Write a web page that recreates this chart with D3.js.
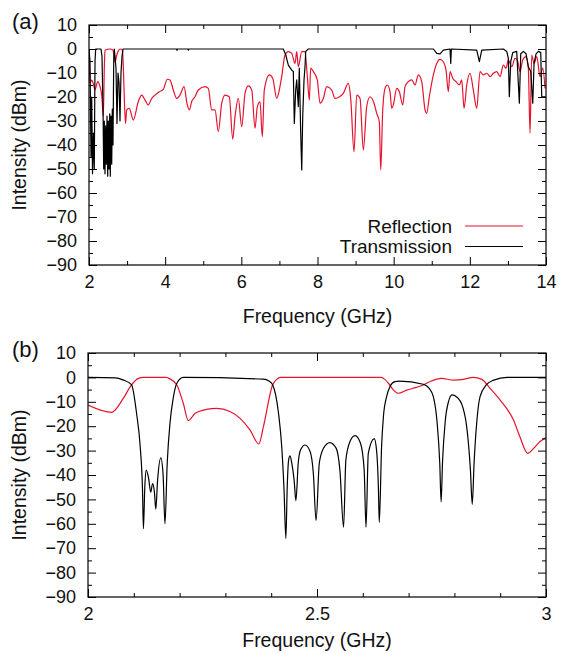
<!DOCTYPE html>
<html>
<head>
<meta charset="utf-8">
<script src="https://cdn.jsdelivr.net/npm/d3@7"></script>
<style>
  body { margin: 0; background: #fff; }
  svg { font-family: "Liberation Sans", Arial, sans-serif; }
  .tick text { font-size: 18px; fill: #111; }
</style>
</head>
<body>
<div id="chart"></div>
<script>
// Panel (a): frequency (GHz), intensity (dBm)
const reflectionA = [
  [2.000, 0], [2.013, -8], [2.026, -14], [2.071, -13], [2.105, -14], [2.158, -17], [2.228, -13.6],
  [2.289, -15.7], [2.334, -19.2], [2.376, -28], [2.402, -8], [2.420, -0.5], [2.551, 0], [2.630, -0.5],
  [2.683, -5.5], [2.722, -3], [2.762, -1], [2.814, 0], [2.880, -0.5], [2.901, -7.4], [2.932, -23],
  [2.959, -31], [2.990, -25.4], [3.058, -24.7], [3.163, -29.6], [3.295, -21.9], [3.384, -19.2],
  [3.471, -21.3], [3.557, -23.3], [3.647, -20.6], [3.733, -19.2], [3.846, -17.8], [3.951, -16.8],
  [4.056, -12.6], [4.127, -12.9], [4.214, -17.1], [4.303, -20.6], [4.390, -19.2], [4.495, -15.7],
  [4.581, -23.3], [4.634, -25.4], [4.697, -21.9], [4.784, -19.9], [4.870, -17.1], [5.046, -15.7],
  [5.133, -16.4], [5.222, -25.4], [5.309, -25.4], [5.396, -34.4], [5.485, -22.6], [5.571, -19.2],
  [5.684, -19.9], [5.774, -37.6], [5.834, -28.2], [5.921, -20.6], [6.010, -32.4], [6.097, -18.5],
  [6.183, -15.4], [6.273, -17.1], [6.359, -33], [6.420, -24], [6.491, -22], [6.551, -36.5],
  [6.603, -17.1], [6.735, -10.8], [6.824, -12.2], [6.929, -20.6], [6.997, -17.1], [7.060, -11.5],
  [7.147, -2.5], [7.234, -1.1], [7.323, -1.8], [7.410, -6], [7.454, -1.1], [7.496, -7.4],
  [7.586, -1.1], [7.672, -1.1], [7.733, -11.5], [7.785, -21.3], [7.822, -8], [7.890, -9.4],
  [7.995, -12.9], [8.066, -22.6], [8.153, -20.6], [8.242, -15.7], [8.373, -17.1], [8.460, -20.6],
  [8.547, -20.2], [8.678, -18.5], [8.809, -14.3], [8.872, -20.6], [8.959, -42.8], [9.030, -19.2],
  [9.117, -20.6], [9.203, -42.1], [9.292, -24], [9.379, -19.9], [9.484, -22.6], [9.555, -26.8],
  [9.623, -30.3], [9.660, -50.4], [9.713, -25.4], [9.773, -16.4], [9.833, -15], [9.904, -17.8],
  [9.949, -24.7], [9.991, -23.3], [10.080, -16.4], [10.149, -17.8], [10.238, -23.3], [10.298, -15.7],
  [10.385, -13.6], [10.474, -12.9], [10.561, -15], [10.648, -10.8], [10.737, -13.6], [10.824, -25.4],
  [10.868, -26.8], [10.936, -19.9], [11.042, -10.8], [11.131, -6], [11.218, -4.3], [11.304, -5.3],
  [11.375, -8.8], [11.435, -17.8], [11.480, -9.4], [11.551, -12.2], [11.638, -13.6], [11.724, -15],
  [11.787, -12.9], [11.848, -24.7], [11.919, -15], [12.005, -10.1], [12.092, -17.1], [12.181, -24.7],
  [12.268, -9.4], [12.355, -10.8], [12.444, -10.1], [12.530, -11.5], [12.617, -10.1], [12.706, -9.4],
  [12.793, -11.5], [12.880, -6.7], [12.950, -8], [13.011, -4.6], [13.100, -7.4], [13.187, -3.9],
  [13.248, -4.6], [13.318, -9.4], [13.389, -4.6], [13.476, -3.2], [13.536, -8], [13.581, -35.1],
  [13.625, -2.5], [13.686, -6], [13.757, -3.2], [13.844, -11.5], [13.914, -8], [13.975, -16.4]
];

const transmissionA = [
  [2.000, 0], [2.026, -5], [2.053, -45], [2.071, -20], [2.092, -52], [2.118, -35], [2.139, -50],
  [2.158, -5], [2.176, 0], [2.315, 0], [2.341, -3], [2.368, -25], [2.386, -50], [2.402, -30],
  [2.420, -52], [2.439, -32], [2.454, -48], [2.473, -28], [2.491, -53], [2.507, -30], [2.525, -50],
  [2.544, -27], [2.559, -53], [2.578, -28], [2.596, -48], [2.612, -25], [2.630, -40], [2.649, -5],
  [2.664, 0], [2.683, -3], [2.709, -8], [2.735, -31], [2.762, -10], [2.788, -14], [2.814, -30],
  [2.840, -10], [2.867, -3], [2.893, 0], [4.300, 0], [4.310, -0.6], [4.320, 0], [4.600, 0],
  [4.610, -0.5], [4.620, 0], [7.102, 0], [7.165, -2.4], [7.234, -6.7], [7.323, -8.8],
  [7.365, -9.4], [7.391, -31], [7.428, -17], [7.454, -12.9], [7.496, -24], [7.522, -8], [7.559, -35],
  [7.586, -50.4], [7.612, -28], [7.646, -12.9], [7.672, -7.4], [7.691, -1], [7.759, 0], [11.042, 0],
  [11.131, -1.8], [11.218, -2], [11.304, -0.5], [11.480, 0], [11.499, -6], [11.514, 0], [12.181, -0.5],
  [12.250, -5.3], [12.313, -0.5], [12.880, 0], [12.969, -1], [13.011, -3.9], [13.037, -19.9],
  [13.074, -5.3], [13.126, -1.5], [13.231, -1], [13.300, -22.6], [13.337, -2], [13.406, -1],
  [13.476, -2], [13.536, -7.4], [13.599, -9.4], [13.652, -22.6], [13.686, -6], [13.739, -2],
  [13.799, -1], [13.862, -1.5], [13.888, -19.9], [14.000, -19.9]
];

// Panel (b): zoom on 2 - 3 GHz
const reflectionB = [
  [2.000, -11.3], [2.052, -14.3], [2.077, -8.6], [2.095, -3.1], [2.110, -0.4], [2.120, 0], [2.170, 0],
  [2.179, -0.6], [2.194, -3.1], [2.208, -10.6], [2.219, -17.7], [2.234, -14.7], [2.259, -13.1],
  [2.281, -12.7], [2.310, -14], [2.332, -16.8], [2.354, -21.6], [2.373, -27.3], [2.383, -20.2],
  [2.403, -3.1], [2.412, -0.8], [2.420, 0], [2.640, 0], [2.648, -0.8], [2.656, -2.4], [2.667, -5.2],
  [2.677, -6.5], [2.696, -5.2], [2.717, -4.1], [2.732, -3.1], [2.747, -1.7], [2.772, -0.4],
  [2.798, -1.1], [2.820, -0.8], [2.841, 0], [2.860, -0.8], [2.878, -4.5], [2.900, -9.3],
  [2.929, -17.5], [2.943, -24.3], [2.960, -31.1], [2.973, -29.1], [2.987, -26.3], [3.000, -24.6]
];

const transmissionB = [
  [2.000, 0], [2.060, -0.2], [2.076, -1], [2.095, -3], [2.106, -14.7], [2.114, -28.4], [2.119, -46],
  [2.121, -62], [2.124, -45], [2.127, -38], [2.132, -41], [2.137, -47], [2.141, -43.5], [2.145, -47],
  [2.148, -54], [2.152, -42], [2.159, -33], [2.164, -40], [2.168, -60], [2.173, -35], [2.179, -18.8],
  [2.186, -8.6], [2.194, -2.4], [2.208, 0], [2.383, -0.7], [2.395, -1.5], [2.403, -3], [2.416, -14.7],
  [2.423, -28.4], [2.428, -46], [2.432, -66], [2.435, -44.8], [2.438, -33.9], [2.441, -32.2],
  [2.445, -35.2], [2.450, -42], [2.454, -50.5], [2.459, -35.2], [2.464, -29.8], [2.474, -27.7],
  [2.485, -30.4], [2.492, -39.3], [2.498, -58.7], [2.505, -35.2], [2.514, -29.1], [2.528, -26.7],
  [2.542, -29.1], [2.550, -38], [2.558, -61.4], [2.563, -33.9], [2.572, -26.3], [2.583, -23.9],
  [2.595, -27], [2.603, -38], [2.607, -61.4], [2.612, -31.1], [2.625, -25.1], [2.630, -29.8],
  [2.634, -44.8], [2.636, -59.5], [2.641, -28.4], [2.645, -16.1], [2.652, -7.9], [2.660, -3.5],
  [2.670, -1.7], [2.680, -1.5], [2.732, -2.8], [2.745, -4.5], [2.754, -7.9], [2.762, -18],
  [2.768, -35], [2.771, -51], [2.774, -35], [2.780, -18], [2.787, -10], [2.795, -7.2], [2.805, -8],
  [2.818, -12], [2.828, -22], [2.835, -38], [2.839, -52], [2.843, -35], [2.849, -18], [2.856, -7.9],
  [2.870, -3], [2.886, -1.1], [2.915, 0], [3.000, 0]
];

// Ticks
const yMajor = [10, 0, -10, -20, -30, -40, -50, -60, -70, -80, -90];
const yMinor = [5, -5, -15, -25, -35, -45, -55, -65, -75, -85];
const xMajorA = [2, 4, 6, 8, 10, 12, 14];
const xMinorA = [3, 5, 7, 9, 11, 13];
const xMajorB = [2, 2.5, 3];
const xMinorB = [2.1, 2.2, 2.3, 2.4, 2.6, 2.7, 2.8, 2.9];

const seriesNames = ["Reflection", "Transmission"];
const colors = { Reflection: "#e5132e", Transmission: "#000" };

const width = 561;
const height = 654;

const svg = d3.select("#chart")
  .append("svg")
  .attr("width", width)
  .attr("height", height);

function drawPanel(opt) {
  const x = d3.scaleLinear().domain(opt.xDomain).range([opt.left, opt.right]);
  const y = d3.scaleLinear().domain([-90, 10]).range([opt.bottom, opt.top]);
  const g = svg.append("g");

  // clip the curves to the frame
  g.append("clipPath").attr("id", opt.id + "-clip")
    .append("rect")
    .attr("x", opt.left).attr("y", opt.top)
    .attr("width", opt.right - opt.left).attr("height", opt.bottom - opt.top);

  const lineFor = curve => d3.line()
    .x(d => x(d[0]))
    .y(d => y(d[1]))
    .curve(curve);

  const curves = g.append("g").attr("clip-path", `url(#${opt.id}-clip)`);
  curves.append("path")
    .datum(opt.refl)
    .attr("d", lineFor(opt.reflCurve))
    .attr("fill", "none")
    .attr("stroke", colors.Reflection)
    .attr("stroke-width", 1.2)
    .attr("stroke-linejoin", "round");
  curves.append("path")
    .datum(opt.trans)
    .attr("d", lineFor(opt.transCurve))
    .attr("fill", "none")
    .attr("stroke", colors.Transmission)
    .attr("stroke-width", 1.2)
    .attr("stroke-linejoin", "round");

  // axes, ticks pointing inwards on all four sides
  const fmt = d => d < 0 ? "\u2212" + Math.abs(d) : String(d);
  const addAxis = (axis, tx, ty) => {
    const a = g.append("g")
      .attr("transform", `translate(${tx},${ty})`)
      .call(axis);
    a.select(".domain").remove();
    a.selectAll("line").attr("stroke", "#000");
    return a;
  };

  addAxis(d3.axisLeft(y).tickValues(yMajor).tickSize(-8).tickPadding(12).tickFormat(fmt), opt.left, 0);
  addAxis(d3.axisLeft(y).tickValues(yMinor).tickSize(-4).tickFormat(""), opt.left, 0);
  addAxis(d3.axisRight(y).tickValues(yMajor).tickSize(-8).tickFormat(""), opt.right, 0);
  addAxis(d3.axisRight(y).tickValues(yMinor).tickSize(-4).tickFormat(""), opt.right, 0);

  addAxis(d3.axisBottom(x).tickValues(opt.xMajor).tickSize(-8).tickPadding(10).tickFormat(fmt), 0, opt.bottom);
  addAxis(d3.axisBottom(x).tickValues(opt.xMinor).tickSize(-4).tickFormat(""), 0, opt.bottom);
  addAxis(d3.axisTop(x).tickValues(opt.xMajor).tickSize(-8).tickFormat(""), 0, opt.top);
  addAxis(d3.axisTop(x).tickValues(opt.xMinor).tickSize(-4).tickFormat(""), 0, opt.top);

  g.append("rect")
    .attr("x", opt.left).attr("y", opt.top)
    .attr("width", opt.right - opt.left).attr("height", opt.bottom - opt.top)
    .attr("fill", "none")
    .attr("stroke", "#000")
    .attr("stroke-width", 1.2);

  // labels
  g.append("text")
    .attr("x", (opt.left + opt.right) / 2)
    .attr("y", opt.xTitleY)
    .attr("text-anchor", "middle")
    .attr("font-size", 19.5)
    .attr("fill", "#111")
    .text("Frequency (GHz)");

  g.append("text")
    .attr("transform", `translate(26,${(opt.top + opt.bottom) / 2}) rotate(-90)`)
    .attr("text-anchor", "middle")
    .attr("font-size", 19.5)
    .attr("fill", "#111")
    .text("Intensity (dBm)");

  g.append("text")
    .attr("x", 12)
    .attr("y", opt.top + 4)
    .attr("font-size", 22)
    .attr("fill", "#111")
    .text(opt.tag);

  return { x, y, g };
}

const panelA = drawPanel({
  id: "a", tag: "(a)",
  left: 89, right: 546, top: 25, bottom: 265, xTitleY: 323,
  xDomain: [2, 14], xMajor: xMajorA, xMinor: xMinorA,
  refl: reflectionA, trans: transmissionA,
  reflCurve: d3.curveMonotoneX, transCurve: d3.curveLinear
});

drawPanel({
  id: "b", tag: "(b)",
  left: 88, right: 546, top: 353, bottom: 597, xTitleY: 647,
  xDomain: [2, 3], xMajor: xMajorB, xMinor: xMinorB,
  refl: reflectionB, trans: transmissionB,
  reflCurve: d3.curveMonotoneX, transCurve: d3.curveMonotoneX
});

// legend inside panel (a)
const legend = panelA.g.append("g");
seriesNames.forEach((name, i) => {
  const ly = 226 + i * 20.5;
  legend.append("text")
    .attr("x", 452)
    .attr("y", ly + 6.5)
    .attr("text-anchor", "end")
    .attr("font-size", 19)
    .attr("fill", "#111")
    .text(name);
  legend.append("line")
    .attr("x1", 465).attr("x2", 523)
    .attr("y1", ly).attr("y2", ly)
    .attr("stroke", colors[name])
    .attr("stroke-width", 1.2);
});
</script>
</body>
</html>
